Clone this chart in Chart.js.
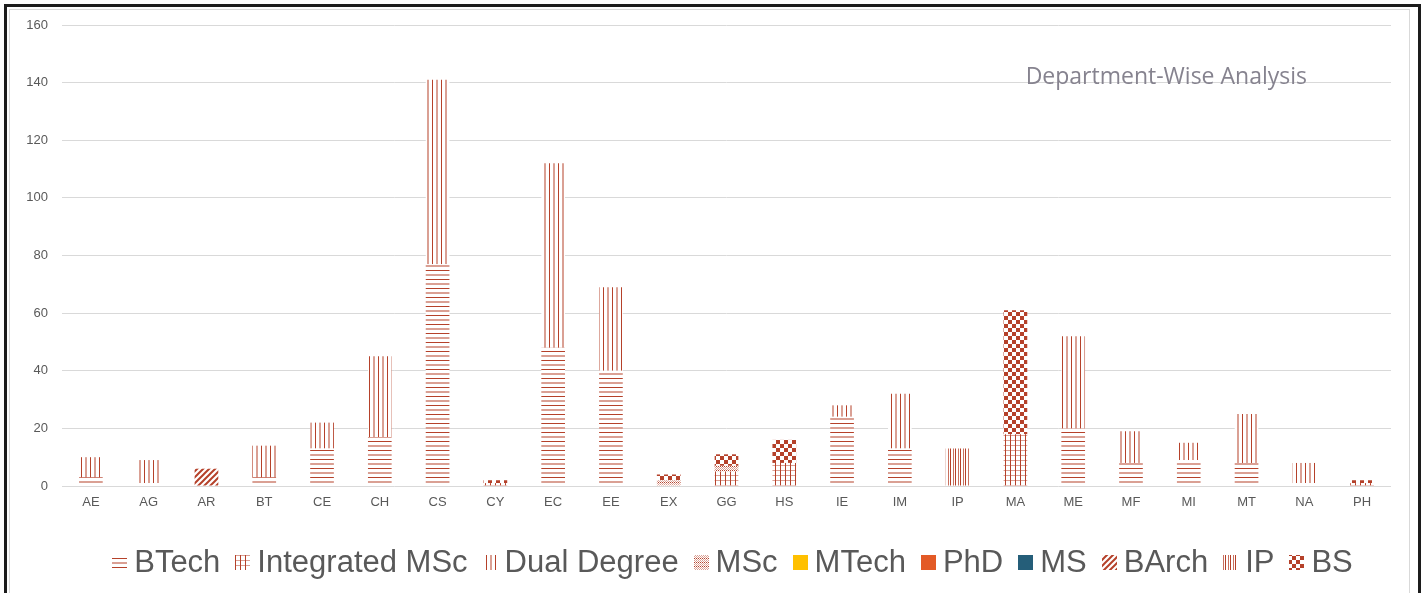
<!DOCTYPE html>
<html>
<head>
<meta charset="utf-8">
<title>Department-Wise Analysis</title>
<script src="https://cdn.jsdelivr.net/npm/chart.js@4.4.1/dist/chart.umd.min.js"></script>
<style>
  html, body { margin: 0; padding: 0; background: #ffffff; width: 1427px; height: 593px; overflow: hidden; }
  #outer { position: absolute; left: 4px; top: 4px; width: 1411px; height: 620px;
           border-left: 3px solid #1c1c1c; border-top: 3px solid #1c1c1c; border-right: 3px solid #1c1c1c; }
  #inner { position: absolute; left: 9px; top: 9px; width: 1399px; height: 620px;
           border-left: 1px solid #d9d9d9; border-top: 1px solid #d9d9d9; border-right: 1px solid #d9d9d9; }
  #chart { position: absolute; left: 0; top: 0; }
</style>
</head>
<body>
<div id="outer"></div>
<div id="inner"></div>
<canvas id="chart" width="1427" height="593"></canvas>
<script>
// Departments on the x axis
const departments = ['AE','AG','AR','BT','CE','CH','CS','CY','EC','EE','EX','GG','HS','IE','IM','IP','MA','ME','MF','MI','MT','NA','PH'];

// Students per programme, one value per department
const btech         = [3, 1, 0, 3, 13, 17, 77, 0, 48, 40, 0, 0, 0, 24, 13, 0, 0, 20, 8, 9, 8, 1, 0];
const integratedMSc = [0, 0, 0, 0, 0, 0, 0, 1, 0, 0, 0, 5, 8, 0, 0, 0, 18, 0, 0, 0, 0, 0, 1];
const dualDegree    = [7, 8, 0, 11, 9, 28, 64, 0, 64, 29, 0, 0, 0, 4, 19, 0, 0, 32, 11, 6, 17, 7, 0];
const msc           = [0, 0, 0, 0, 0, 0, 0, 0, 0, 0, 2, 2, 0, 0, 0, 0, 0, 0, 0, 0, 0, 0, 0];
const mtech         = [0, 0, 0, 0, 0, 0, 0, 0, 0, 0, 0, 0, 0, 0, 0, 0, 0, 0, 0, 0, 0, 0, 0];
const phd           = [0, 0, 0, 0, 0, 0, 0, 0, 0, 0, 0, 0, 0, 0, 0, 0, 0, 0, 0, 0, 0, 0, 0];
const ms            = [0, 0, 0, 0, 0, 0, 0, 0, 0, 0, 0, 0, 0, 0, 0, 0, 0, 0, 0, 0, 0, 0, 0];
const barch         = [0, 0, 6, 0, 0, 0, 0, 0, 0, 0, 0, 0, 0, 0, 0, 0, 0, 0, 0, 0, 0, 0, 0];
const ip            = [0, 0, 0, 0, 0, 0, 0, 0, 0, 0, 0, 0, 0, 0, 0, 13, 0, 0, 0, 0, 0, 0, 0];
const bs            = [0, 0, 0, 0, 0, 0, 0, 1, 0, 0, 2, 4, 8, 0, 0, 0, 43, 0, 0, 0, 0, 0, 1];

// Y axis ticks
const yTicks = [0, 20, 40, 60, 80, 100, 120, 140, 160];

const chartTitle = 'Department-Wise Analysis';

// ---- hatch fills (white ground, brick-red strokes) ----
const RED = '#b5412a';
const RED_SOFT = 'rgba(181,65,42,0.5)';

function tile(w, h, paint) {
  const c = document.createElement('canvas');
  c.width = w; c.height = h;
  const g = c.getContext('2d');
  g.fillStyle = '#ffffff';
  g.fillRect(0, 0, w, h);
  paint(g, w, h);
  return g.createPattern(c, 'repeat');
}

const fillHorizontal = tile(9, 9, (g, w) => {
  g.fillStyle = RED; g.fillRect(0, 0, w, 1);
  g.fillStyle = RED_SOFT; g.fillRect(0, 4, w, 2);
});
const fillVertical = tile(9, 9, (g, w, h) => {
  g.fillStyle = RED; g.fillRect(0, 0, 1, h);
  g.fillStyle = RED_SOFT; g.fillRect(4, 0, 2, h);
});
const fillGrid = tile(5, 5, (g, w, h) => {
  g.fillStyle = RED; g.fillRect(0, 0, 1, h);
  g.fillStyle = RED_SOFT; g.fillRect(0, 0, w, 1);
});
const fillLattice = tile(4, 4, (g) => {
  g.fillStyle = RED_SOFT;
  g.fillRect(0, 0, 1, 1); g.fillRect(2, 0, 1, 1);
  g.fillRect(1, 1, 1, 1); g.fillRect(3, 1, 1, 1);
  g.fillStyle = RED;
  g.fillRect(0, 2, 1, 1); g.fillRect(2, 2, 1, 1);
  g.fillStyle = RED_SOFT;
  g.fillRect(1, 3, 1, 1); g.fillRect(3, 3, 1, 1);
});
const fillDiagonal = tile(6, 6, (g) => {
  g.strokeStyle = RED; g.lineWidth = 2;
  g.beginPath();
  g.moveTo(-1, 7); g.lineTo(7, -1);
  g.moveTo(-4, 4); g.lineTo(4, -4);
  g.moveTo(2, 10); g.lineTo(10, 2);
  g.stroke();
});
const fillDense = tile(5, 5, (g, w, h) => {
  g.fillStyle = RED; g.fillRect(0, 0, 1, h);
  g.fillStyle = 'rgba(181,65,42,0.75)'; g.fillRect(3, 0, 1, h);
});
const fillChecker = tile(8, 8, (g) => {
  g.fillStyle = RED;
  g.fillRect(0, 0, 4, 4);
  g.fillRect(4, 4, 4, 4);
});

const series = [
  { label: 'BTech',          data: btech,         backgroundColor: fillHorizontal },
  { label: 'Integrated MSc', data: integratedMSc, backgroundColor: fillGrid },
  { label: 'Dual Degree',    data: dualDegree,    backgroundColor: fillVertical },
  { label: 'MSc',            data: msc,           backgroundColor: fillLattice },
  { label: 'MTech',          data: mtech,         backgroundColor: '#ffc000' },
  { label: 'PhD',            data: phd,           backgroundColor: '#e35a26' },
  { label: 'MS',             data: ms,            backgroundColor: '#255e79' },
  { label: 'BArch',          data: barch,         backgroundColor: fillDiagonal },
  { label: 'IP',             data: ip,            backgroundColor: fillDense },
  { label: 'BS',             data: bs,            backgroundColor: fillChecker }
].map(s => Object.assign(s, { borderWidth: 0, barPercentage: 0.41, categoryPercentage: 1 }));

const LABEL_FONT = '"Liberation Sans", Arial, sans-serif';

// Title sits inside the plot, top right
const innerTitle = {
  id: 'innerTitle',
  afterDraw(chart) {
    const { ctx, chartArea } = chart;
    ctx.save();
    ctx.font = '23px "Open Sans", sans-serif';
    ctx.fillStyle = '#86838f';
    ctx.textAlign = 'right';
    ctx.textBaseline = 'middle';
    ctx.fillText(chartTitle, chartArea.right - 84, chartArea.top + 52);
    ctx.restore();
  }
};

// Compact legend row under the axis: small swatch, short gap, large label
const legendRow = {
  id: 'legendRow',
  afterDraw(chart) {
    const { ctx, chartArea } = chart;
    const box = 15, gap = 7, spacing = 15;
    ctx.save();
    ctx.font = '31px ' + LABEL_FONT;
    const items = chart.data.datasets.map(ds => ({ ds, w: ctx.measureText(ds.label).width }));
    const total = items.reduce((a, it) => a + box + gap + it.w, 0) + spacing * (items.length - 1);
    let x = (chartArea.left + chartArea.right) / 2 + 6 - total / 2;
    const cy = chartArea.bottom + 76;
    ctx.textBaseline = 'middle';
    ctx.textAlign = 'left';
    items.forEach(it => {
      ctx.fillStyle = it.ds.backgroundColor;
      ctx.fillRect(Math.round(x), Math.round(cy - box / 2), box, box);
      ctx.fillStyle = '#595959';
      ctx.fillText(it.ds.label, x + box + gap, cy + 1);
      x += box + gap + it.w + spacing;
    });
    ctx.restore();
  }
};

new Chart(document.getElementById('chart'), {
  type: 'bar',
  data: { labels: departments, datasets: series },
  plugins: [innerTitle, legendRow],
  options: {
    responsive: false,
    animation: false,
    layout: { padding: { left: 10, right: 36, top: 25, bottom: 79 } },
    plugins: {
      title: { display: false },
      tooltip: { enabled: false },
      legend: { display: false }
    },
    scales: {
      x: {
        stacked: true,
        afterFit(scale) { scale.height = 28; },
        grid: { display: false, drawTicks: false },
        border: { display: false },
        ticks: { color: '#595959', padding: 9, font: { family: LABEL_FONT, size: 13 } }
      },
      y: {
        stacked: true,
        min: yTicks[0],
        max: yTicks[yTicks.length - 1],
        afterBuildTicks(scale) { scale.ticks = yTicks.map(v => ({ value: v })); },
        afterFit(scale) { scale.width = 52; },
        grid: { color: '#d9d9d9', lineWidth: 1, drawTicks: false },
        border: { display: false },
        ticks: { color: '#595959', padding: 14, font: { family: LABEL_FONT, size: 13 } }
      }
    }
  }
});
</script>
</body>
</html>
